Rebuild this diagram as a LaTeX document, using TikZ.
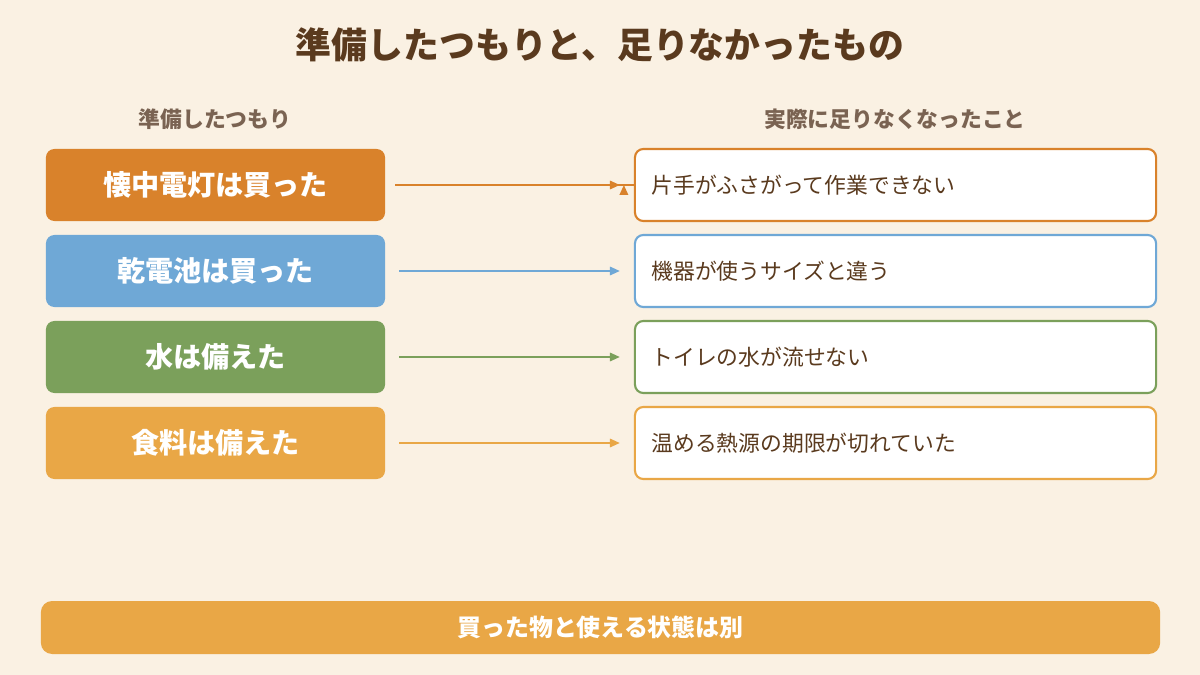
\documentclass[tikz,border=0pt]{standalone}
\usepackage{fontspec}
\setmainfont{Noto Sans CJK JP}
\usetikzlibrary{positioning,arrows.meta}
\definecolor{bgcol}{HTML}{FAF1E3}
\definecolor{txtcol}{HTML}{5A3A1E}
\definecolor{subcol}{HTML}{7A6352}
\definecolor{c1}{HTML}{D9822B}
\definecolor{c2}{HTML}{6FA8D6}
\definecolor{c3}{HTML}{7BA05B}
\definecolor{c4}{HTML}{E9A746}
\tikzset{
  left box/.style={rounded corners=6pt, fill=#1, minimum width=8.475cm, minimum height=1.8cm,
    text=white, font=\fontsize{20}{24}\selectfont\bfseries},
  right box/.style={rounded corners=6pt, draw=#1, line width=1.5pt, fill=white,
    minimum width=13.025cm, minimum height=1.8cm, text=txtcol, align=left,
    text width=12.2cm, font=\fontsize{15.5}{19}\selectfont},
  row arrow/.style={draw=#1, line width=1.2pt, -{Triangle[length=7pt,width=6pt]}},
}
\begin{document}
\begin{tikzpicture}[x=0.025cm,y=-0.025cm]
  \useasboundingbox[fill=bgcol] (0,0) rectangle (1200,675);

  % title and column heads
  \node[text=txtcol, font=\fontsize{25.5}{30}\selectfont\bfseries] (title) at (600,45) {準備したつもりと、足りなかったもの};
  \node[text=subcol, font=\fontsize{15.5}{19}\selectfont\bfseries] (headL) at (215,119) {準備したつもり};
  \node[text=subcol, font=\fontsize{15.5}{19}\selectfont\bfseries] (headR) at (895,119) {実際に足りなくなったこと};

  % row 1
  \node[left box=c1] (l1) at (215.5,185) {懐中電灯は買った};
  \node[right box=c1] (r1) at (895.5,185) {片手がふさがって作業できない};
  \draw[row arrow=c1] (l1.east) ++(10,0) coordinate (s1) -- (s1 -| r1.west) ++(-10,0);
  % row 2
  \node[left box=c2] (l2) at (215.5,271) {乾電池は買った};
  \node[right box=c2] (r2) at (895.5,271) {機器が使うサイズと違う};
  % row 3
  \node[left box=c3] (l3) at (215.5,357) {水は備えた};
  \node[right box=c3] (r3) at (895.5,357) {トイレの水が流せない};
  % row 4
  \node[left box=c4] (l4) at (215.5,443) {食料は備えた};
  \node[right box=c4] (r4) at (895.5,443) {温める熱源の期限が切れていた};

  % arrows
  \draw[row arrow=c1] ([xshift=10]l1.east) -- ([xshift=-10]r1.west);
  \draw[row arrow=c2] ([xshift=10]l2.east) -- ([xshift=-10]r2.west);
  \draw[row arrow=c3] ([xshift=10]l3.east) -- ([xshift=-10]r3.west);
  \draw[row arrow=c4] ([xshift=10]l4.east) -- ([xshift=-10]r4.west);

  % bottom bar
  \node[rounded corners=8pt, fill=c4, minimum width=27.975cm, minimum height=1.325cm,
    text=white, font=\fontsize{17}{20}\selectfont\bfseries] (summary) at (600.5,627.5) {買った物と使える状態は別};
\end{tikzpicture}
\end{document}
